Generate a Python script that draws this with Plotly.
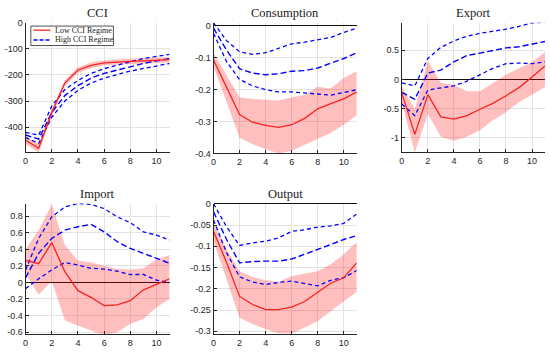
import plotly.graph_objects as go

x = list(range(12))

# ---- CCI ----
cci_low = [-450, -481, -344, -231, -181, -163, -154, -150, -148, -146, -144, -141]
cci_low_up = [-435, -465, -330, -220, -170, -152, -145, -140, -138, -136, -134, -131]
cci_low_lo = [-465, -497, -358, -242, -192, -174, -163, -160, -158, -156, -154, -151]
cci_high_up = [-420, -431, -319, -256, -221, -194, -176, -162, -150, -137, -129, -121]
cci_high = [-430, -446, -344, -279, -241, -212, -194, -181, -169, -156, -146, -137]
cci_high_lo = [-440, -462, -362, -300, -259, -231, -212, -197, -185, -175, -166, -156]

# ---- Consumption ----
con_low = [-0.107, -0.193, -0.278, -0.302, -0.312, -0.318, -0.31, -0.29, -0.26, -0.244, -0.229, -0.207]
con_low_up = [-0.085, -0.153, -0.224, -0.229, -0.232, -0.234, -0.224, -0.217, -0.191, -0.196, -0.163, -0.142]
con_low_lo = [-0.127, -0.239, -0.351, -0.371, -0.387, -0.4, -0.392, -0.373, -0.354, -0.336, -0.31, -0.28]
con_high_up = [0.01, -0.046, -0.081, -0.089, -0.084, -0.071, -0.056, -0.051, -0.044, -0.036, -0.02, -0.007]
con_high = [-0.007, -0.076, -0.134, -0.148, -0.153, -0.15, -0.142, -0.14, -0.132, -0.117, -0.102, -0.084]
con_high_lo = [-0.023, -0.112, -0.168, -0.188, -0.2, -0.207, -0.207, -0.211, -0.214, -0.217, -0.209, -0.2]

# ---- Export ----
exp_low = [-0.23, -0.94, -0.26, -0.64, -0.68, -0.62, -0.51, -0.41, -0.28, -0.14, 0.04, 0.23]
exp_low_up = [-0.12, -0.51, 0.32, -0.06, -0.09, -0.2, -0.2, -0.06, 0.08, 0.19, 0.3, 0.47]
exp_low_lo = [-0.39, -1.25, -0.59, -0.98, -1.05, -0.98, -0.87, -0.7, -0.56, -0.39, -0.26, -0.13]
exp_high_up = [-0.06, -0.11, 0.36, 0.55, 0.66, 0.74, 0.79, 0.82, 0.86, 0.91, 0.97, 0.98]
exp_high = [-0.22, -0.34, 0.11, 0.16, 0.3, 0.41, 0.45, 0.49, 0.54, 0.56, 0.61, 0.65]
exp_high_lo = [-0.42, -0.62, -0.18, -0.14, -0.11, -0.03, 0.08, 0.19, 0.27, 0.28, 0.27, 0.3]

# ---- Import ----
imp_low = [0.265, 0.226, 0.48, 0.13, -0.1, -0.18, -0.28, -0.27, -0.22, -0.09, -0.024, 0.044]
imp_low_up = [0.4, 0.63, 0.94, 0.45, 0.265, 0.24, 0.2, 0.16, 0.155, 0.17, 0.28, 0.33]
imp_low_lo = [0.11, -0.15, 0.016, -0.46, -0.52, -0.58, -0.64, -0.6, -0.5, -0.44, -0.3, -0.2]
imp_high_up = [0.15, 0.53, 0.79, 0.91, 0.95, 0.94, 0.89, 0.79, 0.72, 0.61, 0.57, 0.51]
imp_high = [0.055, 0.35, 0.53, 0.63, 0.67, 0.7, 0.61, 0.49, 0.41, 0.35, 0.29, 0.23]
imp_high_lo = [-0.075, 0.044, 0.15, 0.24, 0.21, 0.17, 0.16, 0.135, 0.095, 0.095, 0.028, -0.004]

# ---- Output ----
out_low = [-0.065, -0.138, -0.218, -0.237, -0.249, -0.249, -0.243, -0.23, -0.208, -0.187, -0.174, -0.139]
out_low_up = [-0.046, -0.107, -0.159, -0.172, -0.18, -0.184, -0.17, -0.165, -0.159, -0.142, -0.119, -0.09]
out_low_lo = [-0.088, -0.176, -0.268, -0.283, -0.295, -0.305, -0.306, -0.291, -0.276, -0.253, -0.23, -0.207]
out_high_up = [0.0, -0.054, -0.098, -0.092, -0.088, -0.08, -0.065, -0.061, -0.055, -0.052, -0.046, -0.024]
out_high = [-0.019, -0.084, -0.139, -0.136, -0.135, -0.135, -0.13, -0.119, -0.107, -0.096, -0.084, -0.075]
out_high_lo = [-0.038, -0.115, -0.172, -0.184, -0.19, -0.185, -0.182, -0.187, -0.193, -0.18, -0.174, -0.157]

titles = ["CCI", "Consumption", "Export", "Import", "Output"]
legend_labels = ["Low CCI Regime", "High CCI Regime"]
x_ticks = [0, 2, 4, 6, 8, 10]
y_ticks = [
    [0, -100, -200, -300, -400],
    [0, -0.1, -0.2, -0.3, -0.4],
    [0.5, 0, -0.5, -1],
    [0.8, 0.6, 0.4, 0.2, 0, -0.2, -0.4, -0.6],
    [0, -0.05, -0.1, -0.15, -0.2, -0.25, -0.3],
]
y_ranges = [[-497, 0], [-0.4, 0.01], [-1.25, 0.97], [-0.62, 0.95], [-0.306, 0.0005]]

panels = [
    (cci_low, cci_low_up, cci_low_lo, cci_high_up, cci_high, cci_high_lo),
    (con_low, con_low_up, con_low_lo, con_high_up, con_high, con_high_lo),
    (exp_low, exp_low_up, exp_low_lo, exp_high_up, exp_high, exp_high_lo),
    (imp_low, imp_low_up, imp_low_lo, imp_high_up, imp_high, imp_high_lo),
    (out_low, out_low_up, out_low_lo, out_high_up, out_high, out_high_lo),
]

W, H = 550, 357
RED = "#ff2020"
BLUE = "#0000ff"
# pixel boxes: (left, right, top, bottom)
boxes = [
    (22.7, 167.5, 18.3, 151.7),
    (211.7, 355.7, 18.3, 152.7),
    (401.0, 545.0, 18.3, 151.7),
    (22.7, 167.5, 204.3, 338.3),
    (211.7, 355.7, 204.3, 338.3),
]

def px(xp):
    return xp / W

def py(yp):
    return 1 - yp / H

fig = go.Figure()
layout = dict(
    width=W, height=H, margin=dict(l=0, r=0, t=0, b=0),
    paper_bgcolor="white", plot_bgcolor="white",
    showlegend=False,
)
annotations = []
shapes = []
for i, (lo_med, lo_up, lo_lo, hi_up, hi_med, hi_lo) in enumerate(panels):
    k = "" if i == 0 else str(i + 1)
    xa, ya = "x" + k, "y" + k
    fig.add_trace(go.Scatter(x=x, y=lo_lo, xaxis=xa, yaxis=ya, mode="lines",
                             line=dict(width=0, color="rgba(0,0,0,0)"), hoverinfo="skip"))
    fig.add_trace(go.Scatter(x=x, y=lo_up, xaxis=xa, yaxis=ya, mode="lines", fill="tonexty",
                             fillcolor="rgba(255,0,0,0.25)", line=dict(width=0, color="rgba(0,0,0,0)"),
                             hoverinfo="skip"))
    fig.add_trace(go.Scatter(x=x, y=hi_med, xaxis=xa, yaxis=ya, mode="lines",
                             line=dict(color=BLUE, width=1.4, dash="6px,3px"), name=legend_labels[1]))
    for s in (hi_up, hi_lo):
        fig.add_trace(go.Scatter(x=x, y=s, xaxis=xa, yaxis=ya, mode="lines",
                                 line=dict(color=BLUE, width=1.3, dash="4px,3px")))
    fig.add_trace(go.Scatter(x=x, y=lo_med, xaxis=xa, yaxis=ya, mode="lines",
                             line=dict(color=RED, width=1.3), name=legend_labels[0]))
    l, r, t, b = boxes[i]
    axis_common = dict(showline=True, linecolor="#262626", linewidth=1, mirror=False,
                       showgrid=True, gridcolor="#e3e3e3", gridwidth=1,
                       ticks="inside", ticklen=3, tickcolor="#262626",
                       tickfont=dict(family="Liberation Sans, Arial", size=9, color="#262626"))
    layout["xaxis" + k] = dict(domain=[px(l), px(r)], range=[0, 11], anchor=ya, tickvals=x_ticks,
                               ticktext=[str(v) for v in x_ticks], zeroline=False, **axis_common)
    layout["yaxis" + k] = dict(domain=[py(b), py(t)], range=y_ranges[i], anchor=xa, tickvals=y_ticks[i],
                               ticktext=["%g" % v for v in y_ticks[i]],
                               zeroline=(i != 0), zerolinecolor="#111111", zerolinewidth=1.3,
                               **axis_common)
    annotations.append(dict(text=titles[i], x=px((l + r) / 2), y=py(t - 10),
                            xref="paper", yref="paper", showarrow=False,
                            font=dict(family="Liberation Serif, Times New Roman", size=12.5, color="#1a1a1a"),
                            xanchor="center", yanchor="middle"))

# manual legend box inside the CCI panel
shapes.append(dict(type="rect", xref="paper", yref="paper", x0=px(28), x1=px(111), y0=py(41.7), y1=py(21.7),
                   line=dict(color="#262626", width=0.8), fillcolor="white", layer="above"))
shapes.append(dict(type="line", xref="paper", yref="paper", x0=px(30.7), x1=px(47.7), y0=py(25.9), y1=py(25.9),
                   line=dict(color=RED, width=1.3), layer="above"))
shapes.append(dict(type="line", xref="paper", yref="paper", x0=px(30.7), x1=px(47.7), y0=py(36), y1=py(36),
                   line=dict(color=BLUE, width=1.4, dash="4px,2px"), layer="above"))
for lbl, yy in zip(legend_labels, [25.9, 36]):
    annotations.append(dict(text=lbl, x=px(50), y=py(yy), xref="paper", yref="paper", showarrow=False,
                            xanchor="left", yanchor="middle",
                            font=dict(family="Liberation Serif, Times New Roman", size=8, color="#1a1a1a")))

layout["annotations"] = annotations
layout["shapes"] = shapes
fig.update_layout(**layout)
fig.write_html("out.html", config={"displayModeBar": False},
               post_script="document.body.style.margin='0';document.body.style.overflow='hidden';")
